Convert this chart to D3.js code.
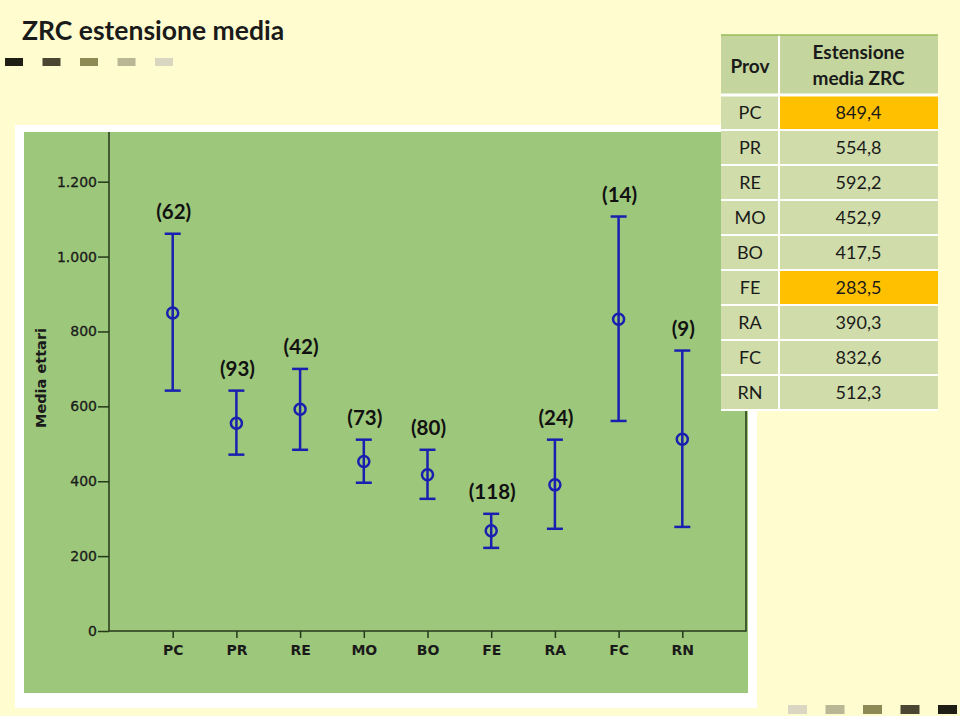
<!DOCTYPE html>
<html>
<head>
<meta charset="utf-8">
<script src="https://cdn.jsdelivr.net/npm/d3@7"></script>
<style>
  html, body { margin: 0; padding: 0; background: #fffdd0; }
  svg { display: block; }
</style>
</head>
<body>
<svg id="chart" width="960" height="716"></svg>
<script>
// ---- data ----
const categories = ["PC", "PR", "RE", "MO", "BO", "FE", "RA", "FC", "RN"];
const means = [849.4, 554.8, 592.2, 452.9, 417.5, 268, 390.3, 832.6, 512.3];
const upper = [1061, 642, 700, 511, 484, 313, 511, 1107, 749];
const lower = [642, 471, 484, 396, 353, 222, 273, 561, 278];
const counts = ["(62)", "(93)", "(42)", "(73)", "(80)", "(118)", "(24)", "(14)", "(9)"];
const yTicks = [0, 200, 400, 600, 800, 1000, 1200];
const yTickLabels = ["0", "200", "400", "600", "800", "1.000", "1.200"];
const tableHeader = ["Prov", "Estensione\nmedia ZRC"];
const tableProv = ["PC", "PR", "RE", "MO", "BO", "FE", "RA", "FC", "RN"];
const tableValues = ["849,4", "554,8", "592,2", "452,9", "417,5", "283,5", "390,3", "832,6", "512,3"];
const tableHighlight = [true, false, false, false, false, true, false, false, false];
const decoColors = ["#1e1e14", "#4a4632", "#8d8a56", "#bab795", "#d9d7c2"];

const svg = d3.select("#chart");
const W = 960, H = 716;

// background
svg.append("rect").attr("width", W).attr("height", H).attr("fill", "#fffdd0");

// title
svg.append("text").attr("x", 22).attr("y", 40)
  .attr("font-family", "Lato, 'Open Sans', sans-serif").attr("font-weight", "bold")
  .attr("font-size", 26.5).attr("fill", "#1a1a1a").text("ZRC estensione media");

// decorative squares top-left
svg.selectAll("rect.decoTL").data(decoColors).join("rect")
  .attr("class", "decoTL")
  .attr("x", (d, i) => 5 + i * 37.5).attr("y", 58).attr("width", 18).attr("height", 8)
  .attr("fill", d => d);
// decorative squares bottom-right (reversed)
svg.selectAll("rect.decoBR").data(decoColors.slice().reverse()).join("rect")
  .attr("class", "decoBR")
  .attr("x", (d, i) => 788 + i * 37.5).attr("y", 705).attr("width", 19).attr("height", 9)
  .attr("fill", d => d);

// white panel + green chart background
svg.append("rect").attr("x", 15).attr("y", 125).attr("width", 742).attr("height", 583).attr("fill", "#ffffff");
svg.append("rect").attr("x", 24).attr("y", 132).attr("width", 724).attr("height", 561).attr("fill", "#9dc77a");

// scales
const plot = { left: 109, right: 746, top: 132, bottom: 631 };
const x = d3.scalePoint().domain(categories).range([plot.left, plot.right]).padding(1);
const y = d3.scaleLinear().domain([0, 1200]).range([plot.bottom, 181.7]);

const axisColor = "#24381a";

// frame
svg.append("path")
  .attr("d", `M${plot.left},${plot.top}V${plot.bottom}H${plot.right}V${plot.top}`)
  .attr("fill", "none").attr("stroke", axisColor).attr("stroke-width", 1.5);

// y axis
const yAxis = d3.axisLeft(y).tickValues(yTicks).tickSize(11).tickPadding(1)
  .tickFormat((d, i) => yTickLabels[i]);
const gy = svg.append("g").attr("transform", `translate(${plot.left},0)`).call(yAxis);
gy.select(".domain").remove();
gy.selectAll("line").attr("stroke", axisColor).attr("stroke-width", 1.5);
gy.selectAll("text").attr("font-family", "'DejaVu Sans', Verdana, sans-serif")
  .attr("font-size", 14).attr("fill", "#1a1a1a")
  .attr("stroke", "#1a1a1a").attr("stroke-width", 0.3);

// x axis
const xAxis = d3.axisBottom(x).tickSize(7).tickPadding(7);
const gx = svg.append("g").attr("transform", `translate(0,${plot.bottom})`).call(xAxis);
gx.select(".domain").remove();
gx.selectAll("line").attr("stroke", axisColor).attr("stroke-width", 1.5);
gx.selectAll("text").attr("font-family", "'DejaVu Sans', Verdana, sans-serif")
  .attr("font-weight", "bold").attr("font-size", 14).attr("fill", "#1a1a1a");

// y axis title
svg.append("text")
  .attr("transform", "translate(46,378) rotate(-90)")
  .attr("text-anchor", "middle")
  .attr("font-family", "'DejaVu Sans', Verdana, sans-serif").attr("font-weight", "bold")
  .attr("font-size", 14.5).attr("fill", "#1a1a1a").text("Media ettari");

// error bars
const blue = "#1a1fb0";
const capW = 8;
const bars = svg.append("g");
categories.forEach((c, i) => {
  const cx = x(c);
  bars.append("line").attr("x1", cx).attr("x2", cx).attr("y1", y(upper[i])).attr("y2", y(lower[i]))
    .attr("stroke", blue).attr("stroke-width", 2.5);
  [upper[i], lower[i]].forEach(v => {
    bars.append("line").attr("x1", cx - capW).attr("x2", cx + capW).attr("y1", y(v)).attr("y2", y(v))
      .attr("stroke", blue).attr("stroke-width", 2.5);
  });
  bars.append("circle").attr("cx", cx).attr("cy", y(means[i])).attr("r", 5.5)
    .attr("fill", "none").attr("stroke", blue).attr("stroke-width", 2.5);
  bars.append("text").attr("x", cx + 1).attr("y", y(upper[i]) - 15)
    .attr("text-anchor", "middle")
    .attr("font-family", "Lato, 'Open Sans', sans-serif").attr("font-weight", "bold")
    .attr("font-size", 20.5).attr("fill", "#111").text(counts[i]);
});

// table
const tx0 = 721, tx1 = 779, tx2 = 938;
const headTop = 35, headBot = 95, rowH = 35;
const tg = svg.append("g");
const hdrFill = "#c4d69d", rowFill = "#d0ddab", hiFill = "#ffc000";
tg.append("rect").attr("x", tx0).attr("y", headTop).attr("width", tx1 - tx0).attr("height", headBot - headTop).attr("fill", hdrFill);
tg.append("rect").attr("x", tx1).attr("y", headTop).attr("width", tx2 - tx1).attr("height", headBot - headTop).attr("fill", hdrFill);
tableProv.forEach((p, i) => {
  const ry = headBot + i * rowH;
  tg.append("rect").attr("x", tx0).attr("y", ry).attr("width", tx1 - tx0).attr("height", rowH).attr("fill", rowFill);
  tg.append("rect").attr("x", tx1).attr("y", ry).attr("width", tx2 - tx1).attr("height", rowH)
    .attr("fill", tableHighlight[i] ? hiFill : rowFill);
  tg.append("text").attr("x", (tx0 + tx1) / 2).attr("y", ry + 24)
    .attr("text-anchor", "middle").attr("font-family", "Lato, 'Open Sans', sans-serif")
    .attr("font-size", 18).attr("fill", "#1a1a1a").text(p);
  tg.append("text").attr("x", (tx1 + tx2) / 2).attr("y", ry + 24)
    .attr("text-anchor", "middle").attr("font-family", "Lato, 'Open Sans', sans-serif")
    .attr("font-size", 18).attr("fill", "#1a1a1a").text(tableValues[i]);
});
// grid lines
const tableBottom = headBot + tableProv.length * rowH;
for (let i = 0; i <= tableProv.length; i++) {
  const ly = headBot + i * rowH;
  tg.append("line").attr("x1", tx0).attr("x2", tx2).attr("y1", ly).attr("y2", ly)
    .attr("stroke", "#ffffff").attr("stroke-width", i === 0 ? 3 : 2);
}
tg.append("line").attr("x1", tx1).attr("x2", tx1).attr("y1", headTop).attr("y2", tableBottom)
  .attr("stroke", "#ffffff").attr("stroke-width", 2);
tg.append("line").attr("x1", tx0).attr("x2", tx2).attr("y1", headTop).attr("y2", headTop)
  .attr("stroke", "#9bbb59").attr("stroke-width", 1.5);
// header text
tg.append("text").attr("x", (tx0 + tx1) / 2).attr("y", 73)
  .attr("text-anchor", "middle").attr("font-family", "Lato, 'Open Sans', sans-serif")
  .attr("font-weight", "bold").attr("font-size", 19).attr("fill", "#1a1a1a").text(tableHeader[0]);
const hl = tableHeader[1].split("\n");
hl.forEach((t, k) => {
  tg.append("text").attr("x", (tx1 + tx2) / 2).attr("y", 59 + k * 26)
    .attr("text-anchor", "middle").attr("font-family", "Lato, 'Open Sans', sans-serif")
    .attr("font-weight", "bold").attr("font-size", 19).attr("fill", "#1a1a1a").text(t);
});
</script>
</body>
</html>
